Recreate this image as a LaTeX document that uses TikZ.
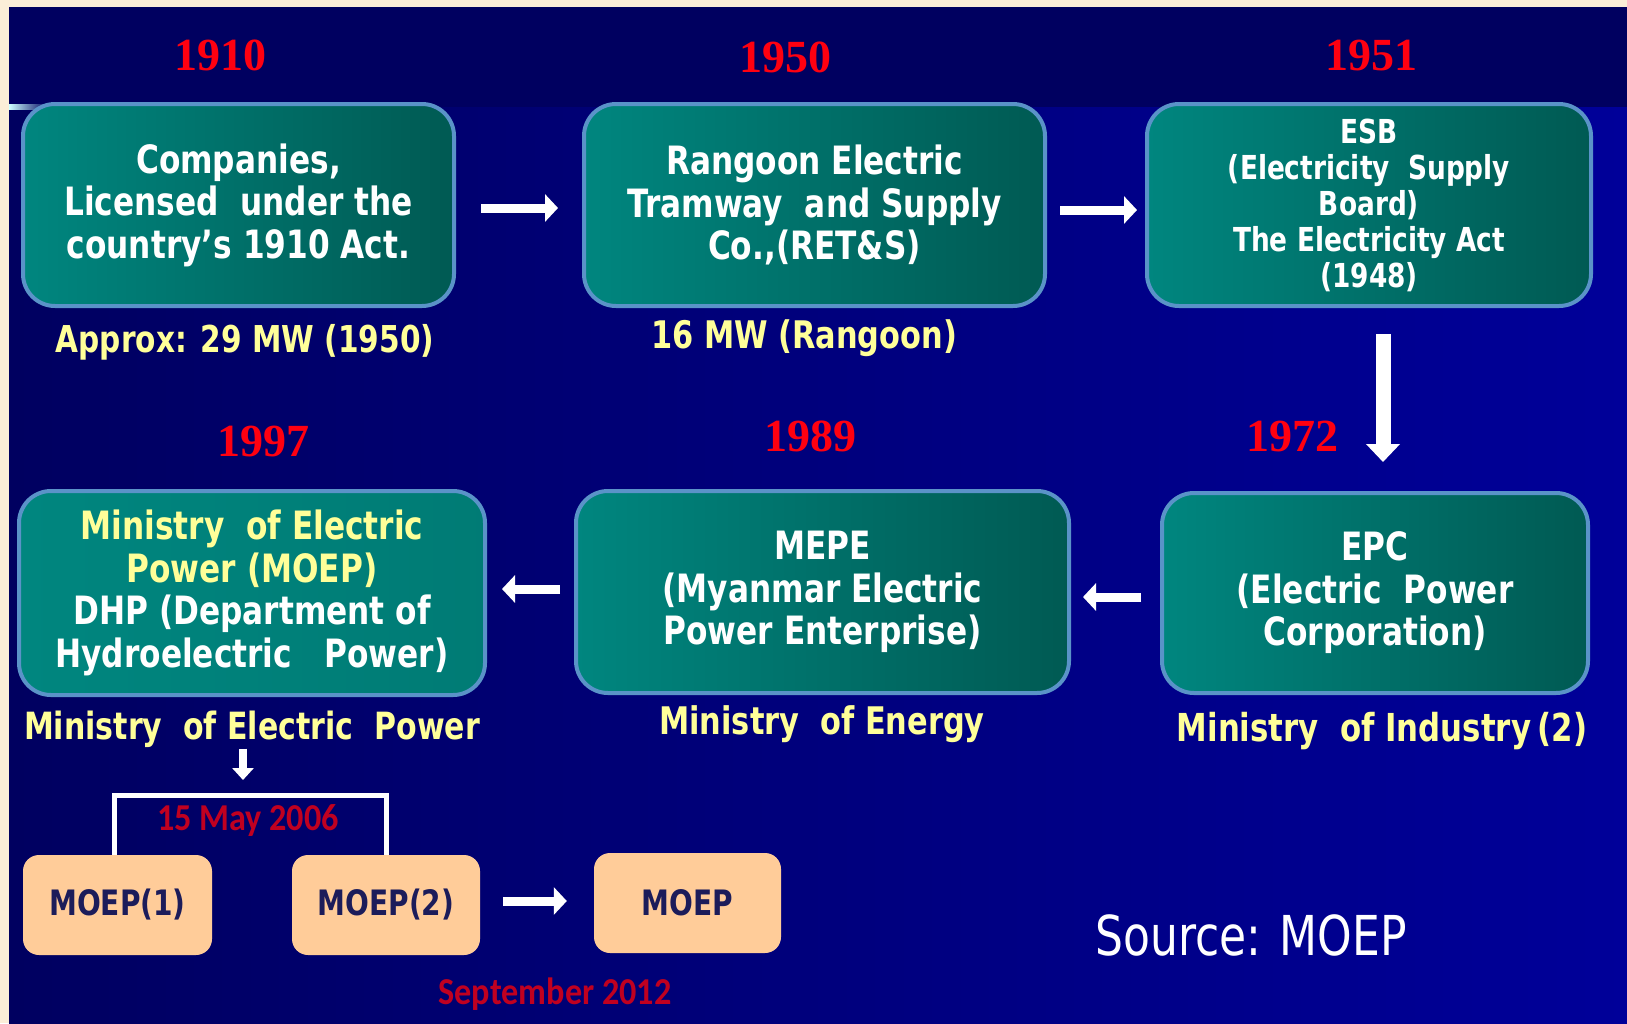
\documentclass[tikz,border=0pt]{standalone}
\usepackage{fontspec}
\setmainfont{DejaVu Sans}[FakeStretch=0.8]
\newfontfamily\yearfont{Liberation Serif}
\newfontfamily\datefont{Carlito}[FakeStretch=0.9]
\usetikzlibrary{arrows.meta}
\definecolor{cream}{HTML}{FBEED8}
\definecolor{bgnavy}{HTML}{000060}
\definecolor{bgblue}{HTML}{000099}
\definecolor{tealA}{HTML}{00867F}
\definecolor{tealB}{HTML}{005A53}
\definecolor{boxedge}{HTML}{5A93C8}
\definecolor{yel}{HTML}{FFFF99}
\definecolor{peach}{HTML}{FFCC99}
\definecolor{smalltext}{HTML}{1C1C5A}
\definecolor{yearred}{HTML}{FF0010}
\definecolor{datered}{HTML}{C00020}
\newcommand\myfs[2]{\fontsize{#1}{#2}\selectfont}
\begin{document}
\begin{tikzpicture}[x=1pt,y=-1pt,
  tealbox/.style={rounded corners=32pt, draw=boxedge, line width=4pt, left color=tealA, right color=tealB, inner sep=0pt, align=center, text=white, font=\bfseries\myfs{39}{42.5}},
  peachbox/.style={rounded corners=16pt, fill=peach, minimum width=188pt, minimum height=100pt, inner sep=0pt, text=smalltext, font=\bfseries\myfs{35}{40}},
  yearlabel/.style={text=yearred, inner sep=0pt, font=\yearfont\bfseries\myfs{46}{50}},
  sublabel/.style={text=yel, inner sep=0pt, font=\bfseries\myfs{38}{42}},
  blockarrow/.style={draw=white, line width=9pt, -{Triangle[width=27pt,length=13pt]}},
  datelabel/.style={text=datered, inner sep=0pt, font=\datefont\bfseries\myfs{38}{42}},
  bracketline/.style={draw=white, line width=5pt}
]
\useasboundingbox (0,0) rectangle (1627,1023);
% background
\fill[cream] (0,0) rectangle (1627,1023);
\fill[bgnavy] (9,7) rectangle (1627,107);
\shade[left color=bgnavy, right color=bgblue] (9,107) rectangle (1627,1023);
\shade[left color=white!80!cyan, right color=bgnavy] (9,104) rectangle (48,109);

% main boxes
\node[tealbox, minimum width=431pt, minimum height=202pt] (b1) at (238.5,205)
  {Companies,\\Licensed\ \ under the\\country’s 1910 Act.};
\node[tealbox, minimum width=461pt, minimum height=202pt] (b2) at (814.5,205)
  {Rangoon Electric\\Tramway\ \ and Supply\\Co.,(RET\&S)};
\node[tealbox, minimum width=444pt, minimum height=202pt, font=\bfseries\myfs{33}{36}] (b3) at (1369,205)
  {ESB\\(Electricity\ \ Supply\\Board)\\The Electricity Act\\(1948)};
\node[tealbox, minimum width=466pt, minimum height=204pt, left color=tealA, right color=tealA!92!black] (b4) at (252,593)
  {\textcolor{yel}{Ministry\ \ of Electric}\\\textcolor{yel}{Power (MOEP)}\\DHP (Department of\\Hydroelectric\ \ \ Power)};
\node[tealbox, minimum width=493pt, minimum height=202pt] (b5) at (822.5,592)
  {MEPE\\(Myanmar Electric\\Power Enterprise)};
\node[tealbox, minimum width=426pt, minimum height=200pt] (b6) at (1375,593)
  {EPC\\(Electric\ \ Power\\Corporation)};

% years
\node[yearlabel] (y1) at (220,55) {1910};
\node[yearlabel] (y2) at (785,57) {1950};
\node[yearlabel] (y3) at (1371,55) {1951};
\node[yearlabel] (y4) at (263,441) {1997};
\node[yearlabel] (y5) at (810,436) {1989};
\node[yearlabel] (y6) at (1292,436) {1972};

% sub labels
\node[sublabel, font=\bfseries\myfs{37}{42}] (lab1) at (245,342) {Approx: 29 MW (1950)};
\node[sublabel] (lab2) at (804,338) {16 MW (Rangoon)};
\node[sublabel, font=\bfseries\myfs{37.5}{42}] (lab4) at (252,729) {Ministry\ \ of Electric\ \ Power};
\node[sublabel] (lab5) at (822,724) {Ministry\ \ of\ Energy};
\node[sublabel, font=\bfseries\myfs{38.5}{42}] (lab6) at (1382,731) {Ministry\ \ of\ Industry\,(2)};

% arrows between main boxes
\draw[blockarrow, shorten <=25pt, shorten >=24pt] ([yshift=-3pt]b1.east) -- ([yshift=-3pt]b1.east -| b2.west);
\draw[blockarrow, shorten <=13pt, shorten >=8pt] ([yshift=-5pt]b2.east) -- ([yshift=-5pt]b2.east -| b3.west);
\draw[blockarrow, line width=15pt, -{Triangle[width=33pt,length=18pt]}, shorten <=26pt, shorten >=29pt]
  ([xshift=14pt]b3.south) -- ([xshift=14pt]b3.south |- b6.north);
\draw[blockarrow, shorten <=19pt, shorten >=12pt] ([yshift=-4pt]b6.west) -- ([yshift=-4pt]b6.west -| b5.east);
\draw[blockarrow, shorten <=14pt, shorten >=15pt] ([yshift=3pt]b5.west) -- ([yshift=3pt]b5.west -| b4.east);

% split into MOEP(1) and MOEP(2)
\node[peachbox, minimum width=189pt] (m1) at (117.5,905) {MOEP(1)};
\node[peachbox] (m2) at (386,905) {MOEP(2)};
\node[peachbox, minimum width=187pt] (m3) at (687.5,903) {MOEP};
\coordinate (split) at (243,795);
\draw[bracketline] ([xshift=-3.5pt]m1.north) -- ([xshift=-3.5pt]m1.north |- split) -| (m2.north);
\draw[blockarrow, line width=8pt, -{Triangle[width=21pt,length=12pt]}, shorten <=1pt, shorten >=15pt]
  (lab4.south -| split) -- (split);
\node[datelabel] (d1) at (248,821) {15 May 2006};
\draw[blockarrow, shorten <=23pt, shorten >=27pt] ([yshift=4pt]m2.east) -- ([yshift=4pt]m2.east -| m3.west);
\node[datelabel] (d2) at (555,994) {September 2012};

\node[text=white, inner sep=0pt, font=\myfs{55}{60}] (src) at (1251,935) {Source: MOEP};
\end{tikzpicture}
\end{document}
